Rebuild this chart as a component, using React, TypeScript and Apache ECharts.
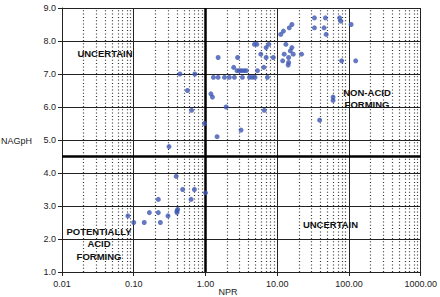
import React, { useEffect, useRef } from "react";
import * as echarts from "echarts";

// NPR (x, log) / NAGpH (y) pairs
const pafPoints: number[][] = [
  [0.083, 2.7], [0.1, 2.5], [0.14, 2.5], [0.165, 2.8], [0.22, 2.8], [0.22, 3.2],
  [0.235, 2.5], [0.3, 2.7], [0.4, 2.8], [0.4, 2.85], [0.41, 2.9], [0.39, 3.9],
  [0.48, 3.5], [0.63, 3.2], [0.7, 3.5], [1.0, 3.4],
];
const uncertainPoints: number[][] = [
  [0.31, 4.8], [0.44, 7.0], [0.71, 7.0], [0.56, 6.5], [0.64, 5.9], [0.97, 5.5],
];
const nafPoints: number[][] = [
  [1.45, 5.1], [1.19, 6.4], [1.25, 6.3], [1.29, 6.9], [1.5, 6.9], [1.84, 6.9],
  [2.15, 6.9], [2.53, 6.9], [3.27, 6.9], [4.1, 6.9], [4.5, 6.9], [4.9, 6.9],
  [7.3, 6.9], [1.5, 7.5], [1.94, 6.0], [3.13, 5.3], [6.6, 5.9], [2.47, 7.2],
  [2.75, 7.1], [2.97, 7.1], [3.19, 7.1], [3.45, 7.1], [3.71, 7.1], [5.3, 7.1],
  [6.5, 7.2], [2.8, 7.5], [4.8, 7.9], [5.2, 7.9], [5.9, 7.6], [7.0, 7.5],
  [8.8, 7.5], [7.0, 7.8], [7.6, 7.9],
  [11.2, 8.2], [12.2, 8.3], [14.7, 8.4], [16, 8.5], [13.2, 7.9], [16, 7.8],
  [15.2, 7.7], [12.5, 7.6], [16.7, 7.6], [21.8, 7.6], [14.4, 7.5], [11.9, 7.4],
  [14.4, 7.35], [14.2, 7.27],
  [33, 8.7], [47, 8.7], [74, 8.7], [77, 8.6], [33, 8.4], [45, 8.4], [48, 8.2],
  [107, 8.5], [79, 7.4], [124, 7.4], [60, 6.3], [60, 6.2], [39, 5.6],
];

const minorX: number[] = [];
[0.01, 0.1, 1, 10, 100].forEach((d) => {
  for (let k = 2; k <= 9; k++) minorX.push(+(d * k).toPrecision(3));
});
const thresholdNPR = 1;
const thresholdNAG = 4.5;

const FONT = "'Liberation Sans', Arial, sans-serif";

export default function App() {
  const ref = useRef<HTMLDivElement>(null);
  useEffect(() => {
    if (!ref.current) return;
    const chart = echarts.init(ref.current, undefined, { renderer: "svg" });
    const allPoints = [...pafPoints, ...uncertainPoints, ...nafPoints];
    const labelStyle = { fontFamily: FONT, fontWeight: "bold" as const, fontSize: 9.5, fill: "#111", textAlign: "center" as const, textVerticalAlign: "middle" as const };
    chart.setOption({
      animation: false,
      backgroundColor: "#fff",
      grid: { left: 62, right: 18, top: 8, bottom: 25, containLabel: false },
      xAxis: {
        type: "log",
        logBase: 10,
        min: 0.01,
        max: 1000,
        axisLine: { lineStyle: { color: "#222", width: 1 } },
        axisTick: { show: true, length: 4, lineStyle: { color: "#222" } },
        splitLine: { show: true, lineStyle: { color: "#222", width: 1 } },
        axisLabel: {
          fontFamily: FONT, fontSize: 9, color: "#222", margin: 7,
          formatter: (v: number) => v.toFixed(2),
        },
      },
      yAxis: {
        type: "value",
        min: 1,
        max: 9,
        interval: 1,
        axisLine: { show: true, lineStyle: { color: "#222", width: 1 } },
        axisTick: { show: true, length: 4, lineStyle: { color: "#222" } },
        splitLine: { show: true, lineStyle: { color: "#222", width: 1 } },
        axisLabel: {
          fontFamily: FONT, fontSize: 9, color: "#222", margin: 6,
          formatter: (v: number) => v.toFixed(1),
        },
      },
      series: [
        {
          type: "line",
          data: [],
          silent: true,
          markLine: {
            silent: true,
            symbol: "none",
            label: { show: false },
            lineStyle: { color: "#333", width: 1.2, type: [1, 2.3] },
            data: minorX.map((x) => ({ xAxis: x })),
          },
        },
        {
          type: "line",
          data: [],
          silent: true,
          markLine: {
            silent: true,
            symbol: "none",
            label: { show: false },
            lineStyle: { color: "#000", width: 2.5, type: "solid" },
            data: [{ xAxis: thresholdNPR }, { yAxis: thresholdNAG }],
          },
        },
        {
          type: "scatter",
          data: allPoints,
          symbol: "circle",
          symbolSize: 5,
          itemStyle: { color: "#3d58b3" },
          z: 5,
        },
      ],
      graphic: [
        { type: "text", left: 1, top: 136, style: { text: "NAGpH", fontFamily: FONT, fontSize: 9, fill: "#222" } },
        { type: "text", x: 228, y: 292, style: { text: "NPR", fontFamily: FONT, fontSize: 9, fill: "#222", textAlign: "center", textVerticalAlign: "middle" } },
        { type: "text", x: 105, y: 53, z: 10, style: { ...labelStyle, text: "UNCERTAIN" } },
        { type: "text", x: 367, y: 98.5, z: 10, style: { ...labelStyle, text: "NON-ACID\nFORMING", lineHeight: 11.5 } },
        { type: "text", x: 330.5, y: 224, z: 10, style: { ...labelStyle, text: "UNCERTAIN" } },
        { type: "text", x: 99, y: 243.5, z: 10, style: { ...labelStyle, text: "POTENTIALLY\nACID\nFORMING", lineHeight: 12.5 } },
      ],
    });
    return () => chart.dispose();
  }, []);
  return <div ref={ref} style={{ width: 440, height: 297, position: "absolute", left: 0, top: 0 }} />;
}
